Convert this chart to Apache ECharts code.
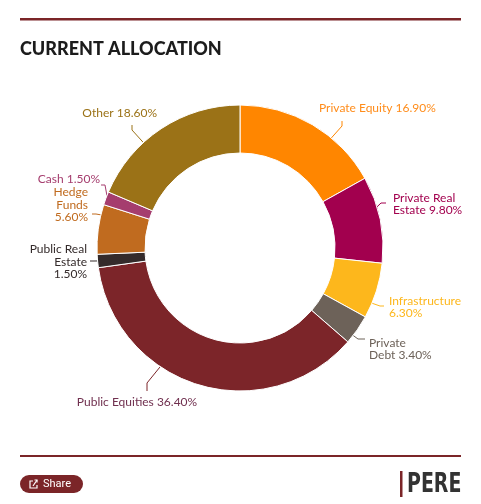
<!DOCTYPE html>
<html><head><meta charset="utf-8">
<script src="https://cdn.jsdelivr.net/npm/echarts@6/dist/echarts.min.js"></script>
<style>html,body{margin:0;padding:0;background:#fff}#c{width:481px;height:504px}</style>
</head><body><div id="c"></div>
<script>
// ---- data ----
const categories = ['Private Equity', 'Private Real Estate', 'Infrastructure', 'Private Debt', 'Public Equities', 'Public Real Estate', 'Hedge Funds', 'Cash', 'Other'];
const values = [16.9, 9.8, 6.3, 3.4, 36.4, 1.5, 5.6, 1.5, 18.6];

// ---- style ----
const sliceColors = ['#FF8600', '#A2004E', '#FDB71C', '#6D6259', '#7C2529', '#342B2B', '#C06B1F', '#A53D6E', '#9B7217'];
const labelColors = ['#FF8C1A', '#A2004E', '#FDB71C', '#6D6259', '#70304F', '#342B2B', '#C06B1F', '#A53D6E', '#9B7217'];
const labelBreakAfter = [[], [1], [0], [0], [], [1, 2], [0, 1], [], []];
const pieCenter = [240, 248];
const pieRadius = [95, 143];
const labelSpots = [
  { x: 319, y: 108, align: 'left', angle: 39.7, elbow: [342, 126], end: [342, 121] },
  { x: 393, y: 204, align: 'left', angle: 73.3, elbow: [381, 203], end: [386, 203] },
  { x: 389, y: 307, align: 'left', angle: 112.7, elbow: [380, 306], end: [384, 306] },
  { x: 369, y: 349, align: 'left', angle: 127.7, elbow: [358, 339], end: [365, 339] },
  { x: 137, y: 402, align: 'center', angle: 213.9, elbow: [147, 383], end: [147, 391] },
  { x: 87, y: 262, align: 'right', angle: 264.8, elbow: [94, 261], end: [90, 261] },
  { x: 88, y: 205, align: 'right', angle: 283.4, elbow: [96, 214], end: [92, 214] },
  { x: 100, y: 179, align: 'right', angle: 291.5, elbow: [105, 185], end: [101, 185] },
  { x: 157, y: 113, align: 'right', angle: 317.5, elbow: [132, 130], end: [132, 125] }
];

function labelText(i) {
  const words = categories[i].split(' ').concat([values[i].toFixed(2) + '%']);
  const br = labelBreakAfter[i];
  let s = '';
  words.forEach((w, k) => {
    s += w;
    if (k < words.length - 1) s += br.indexOf(k) >= 0 ? '\n' : ' ';
  });
  return s;
}

const chart = echarts.init(document.getElementById('c'), null, { renderer: 'canvas' });
const data = categories.map((n, i) => ({
  name: n,
  value: values[i],
  itemStyle: { color: sliceColors[i] },
  label: { color: labelColors[i] }
}));

chart.setOption({
  animation: false,
  backgroundColor: '#ffffff',
  title: {
    text: 'CURRENT ALLOCATION',
    left: 20,
    top: 40,
    padding: 0,
    textStyle: { fontFamily: 'Lato', fontWeight: 900, fontSize: 18, color: '#1c1c1c' }
  },
  graphic: [
    { type: 'rect', shape: { x: 20, y: 18, width: 441, height: 2.5 }, style: { fill: '#7B2528' } },
    { type: 'rect', shape: { x: 20, y: 455, width: 441, height: 2 }, style: { fill: '#7B2528' } },
    { type: 'rect', shape: { x: 20, y: 475, width: 63, height: 18, r: 9 }, style: { fill: '#7B2528' } },
    { type: 'polyline', shape: { points: [[33, 481], [30, 481], [30, 488], [37, 488], [37, 485]] }, style: { stroke: '#fff', lineWidth: 1.2, fill: null } },
    { type: 'polyline', shape: { points: [[33, 486], [37, 480]] }, style: { stroke: '#fff', lineWidth: 1.2, fill: null } },
    { type: 'polyline', shape: { points: [[34.5, 480], [37, 480], [37, 482.5]] }, style: { stroke: '#fff', lineWidth: 1.2, fill: null } },
    { type: 'text', x: 43, y: 484.5, style: { text: 'Share', fill: '#fff', font: '11px Roboto', textVerticalAlign: 'middle' } },
    { type: 'rect', shape: { x: 400, y: 471, width: 2.5, height: 26 }, style: { fill: '#7B2528' } },
    { type: 'text', x: 407, y: 485, scaleX: 0.78, style: { text: 'PERE', fill: '#333333', font: 'bold 27px "Liberation Sans Narrow", "DejaVu Sans Condensed", sans-serif', textVerticalAlign: 'middle' } }
  ],
  series: [{
    type: 'pie',
    center: pieCenter,
    radius: pieRadius,
    startAngle: 90,
    clockwise: true,
    avoidLabelOverlap: false,
    itemStyle: { borderColor: '#ffffff', borderWidth: 1 },
    emphasis: { disabled: true },
    label: {
      show: true,
      position: 'outside',
      fontFamily: 'Lato',
      fontSize: 12,
      lineHeight: 12.5,
      formatter: p => labelText(p.dataIndex)
    },
    labelLine: { show: true, length: 6, length2: 6, lineStyle: { width: 1 } },
    labelLayout: function (params) {
      const s = labelSpots[params.dataIndex];
      const a = s.angle * Math.PI / 180;
      const start = [pieCenter[0] + pieRadius[1] * Math.sin(a), pieCenter[1] - pieRadius[1] * Math.cos(a)];
      return {
        x: s.x,
        y: s.y,
        align: s.align,
        verticalAlign: 'middle',
        labelLinePoints: [start, s.elbow, s.end]
      };
    },
    data: data
  }]
});
</script></body></html>
